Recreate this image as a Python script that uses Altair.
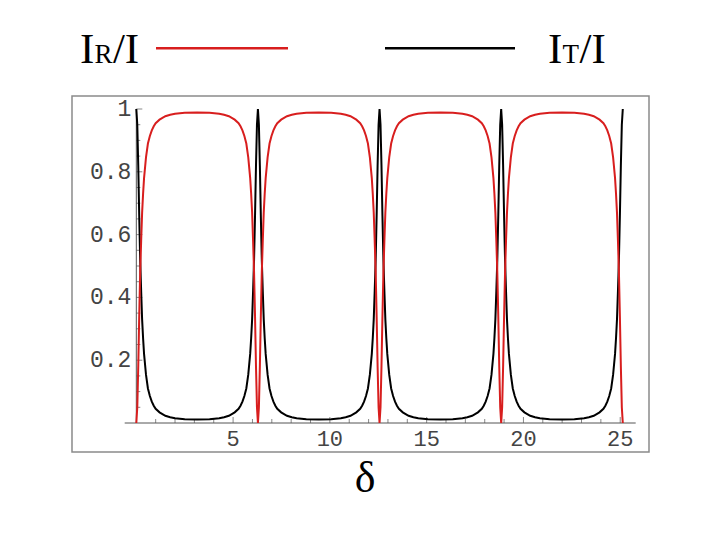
import altair as alt
import pandas as pd

# ---- data ----
# peak positions (delta = 2*pi*m)
peaks = [0.0, 6.283, 12.566, 18.850, 25.133]
# half-profile: offset from a peak, transmitted (IT/I) and reflected (IR/I)
offsets = [0.0, 0.05, 0.1, 0.15, 0.2, 0.25, 0.3, 0.35, 0.4, 0.5, 0.6, 0.7, 0.8, 0.9,
           1.0, 1.2, 1.5, 1.75, 2.0, 2.25, 2.5]
T_side = [1.0, 0.95, 0.82, 0.66, 0.52, 0.42, 0.33, 0.27, 0.22, 0.154, 0.11, 0.086, 0.068, 0.055,
          0.045, 0.034, 0.023, 0.0185, 0.015, 0.0135, 0.012]
R_side = [0.0, 0.05, 0.18, 0.34, 0.48, 0.58, 0.67, 0.73, 0.78, 0.846, 0.89, 0.914, 0.932, 0.945,
          0.955, 0.966, 0.977, 0.9815, 0.985, 0.9865, 0.988]
T_mid = 0.011
R_mid = 0.989

x_major = [5, 10, 15, 20, 25]
x_labels = ["5", "10", "15", "20", "25"]
x_minor = [v for v in range(1, 26) if v % 5 != 0]
y_major = [0.2, 0.4, 0.6, 0.8, 1.0]
y_labels = ["0.2", "0.4", "0.6", "0.8", "1"]
y_minor = [round(0.05 * i, 2) for i in range(1, 20) if i % 4 != 0]

# ---- build curve table ----
rows = []
for k in range(len(peaks) - 1):
    a, b = peaks[k], peaks[k + 1]
    for d, t, r in zip(offsets, T_side, R_side):
        rows.append({"x": a + d, "T": t, "R": r})
    rows.append({"x": (a + b) / 2, "T": T_mid, "R": R_mid})
    for d, t, r in reversed(list(zip(offsets, T_side, R_side))):
        if d == 0:
            continue
        rows.append({"x": b - d, "T": t, "R": r})
rows.append({"x": peaks[-1], "T": T_side[0], "R": R_side[0]})
curve = pd.DataFrame(rows)

W, H = 511, 314
xs = alt.Scale(domain=[-0.6, 25.8], nice=False, zero=False)
ys = alt.Scale(domain=[0, 1], nice=False, zero=False)

one = pd.DataFrame({"x0": [0.0], "y0": [0.0], "y1": [1.0]})

frame = alt.Chart(one).mark_rect(fillOpacity=0, stroke="#8a8a8a", strokeWidth=1.5).encode(
    x=alt.value(-52.7), x2=alt.value(524.3), y=alt.value(-13), y2=alt.value(343)
)

black = alt.Chart(curve).mark_line(color="black", strokeWidth=2).encode(
    x=alt.X("x:Q", scale=xs, axis=None), y=alt.Y("T:Q", scale=ys, axis=None)
)
red = alt.Chart(curve).mark_line(color="#d81e1e", strokeWidth=2).encode(
    x=alt.X("x:Q", scale=xs, axis=None), y=alt.Y("R:Q", scale=ys, axis=None)
)

xaxis = alt.Chart(one).mark_rule(color="#555", strokeWidth=1).encode(
    x=alt.value(0), x2=alt.value(W), y=alt.Y("y0:Q", scale=ys, axis=None)
)
yaxis = alt.Chart(one).mark_rule(color="#555", strokeWidth=1).encode(
    x=alt.X("x0:Q", scale=xs, axis=None), y=alt.Y("y0:Q", scale=ys, axis=None), y2="y1:Q"
)

xmaj_df = pd.DataFrame({"x": x_major, "lab": x_labels, "y0": 0.0})
xmin_df = pd.DataFrame({"x": x_minor, "y0": 0.0})
ymaj_df = pd.DataFrame({"y": y_major, "lab": y_labels, "x0": 0.0})
ymin_df = pd.DataFrame({"y": y_minor, "x0": 0.0})

xt_major = alt.Chart(xmaj_df).mark_tick(orient="vertical", size=6, thickness=1, yOffset=-3, color="#555").encode(
    x=alt.X("x:Q", scale=xs, axis=None), y=alt.Y("y0:Q", scale=ys, axis=None)
)
xt_minor = alt.Chart(xmin_df).mark_tick(orient="vertical", size=4, thickness=1, yOffset=-2, color="#555").encode(
    x=alt.X("x:Q", scale=xs, axis=None), y=alt.Y("y0:Q", scale=ys, axis=None)
)
yt_major = alt.Chart(ymaj_df).mark_tick(orient="horizontal", size=6, thickness=1, xOffset=3, color="#555").encode(
    y=alt.Y("y:Q", scale=ys, axis=None), x=alt.X("x0:Q", scale=xs, axis=None)
)
yt_minor = alt.Chart(ymin_df).mark_tick(orient="horizontal", size=4, thickness=1, xOffset=2, color="#555").encode(
    y=alt.Y("y:Q", scale=ys, axis=None), x=alt.X("x0:Q", scale=xs, axis=None)
)

xlab = alt.Chart(xmaj_df).mark_text(font="Liberation Mono", fontSize=22, color="#444",
                                    align="center", baseline="middle", dy=16).encode(
    x=alt.X("x:Q", scale=xs, axis=None), y=alt.Y("y0:Q", scale=ys, axis=None), text="lab:N"
)
ylab = alt.Chart(ymaj_df).mark_text(font="Liberation Mono", fontSize=23, color="#444",
                                    align="right", baseline="middle", dx=-5).encode(
    y=alt.Y("y:Q", scale=ys, axis=None), x=alt.X("x0:Q", scale=xs, axis=None), text="lab:N"
)

# ---- titles / legend (decorations) ----
legend_parts = pd.DataFrame({
    "t": ["I", "R", "/I", "I", "T", "/I"],
    "px": [-44.7, -30.2, -11.8, 423.3, 437.8, 454.8],
    "fs": [43, 27, 43, 43, 27, 43],
})
legend_text = alt.Chart(legend_parts).mark_text(font="Liberation Serif", color="black",
                                                align="left", baseline="alphabetic").encode(
    x=alt.X("px:Q", scale=None), y=alt.value(-45.7), text="t:N",
    size=alt.Size("fs:Q", scale=None, legend=None)
)
red_key = alt.Chart(one).mark_rule(color="#d81e1e", strokeWidth=2.5).encode(
    x=alt.value(31.3), x2=alt.value(163.3), y=alt.value(-60.7)
)
black_key = alt.Chart(one).mark_rule(color="black", strokeWidth=2.5).encode(
    x=alt.value(260.3), x2=alt.value(390.3), y=alt.value(-60.7)
)
delta = alt.Chart(one).mark_text(font="Liberation Serif", fontSize=44, color="black",
                                 align="center", baseline="alphabetic").encode(
    x=alt.value(240.3), y=alt.value(383), text=alt.value("δ")
)

chart = alt.layer(
    frame, xaxis, yaxis, xt_major, xt_minor, yt_major, yt_minor, xlab, ylab,
    black, red, legend_text, red_key, black_key, delta
).properties(
    width=W, height=H,
    autosize=alt.AutoSizeParams(type="none"),
    padding={"left": 116.7, "top": 101, "right": 76.3, "bottom": 109},
    background="white",
).configure_view(stroke=None)

chart.save("out.html", embed_options={"renderer": "svg", "actions": False})
